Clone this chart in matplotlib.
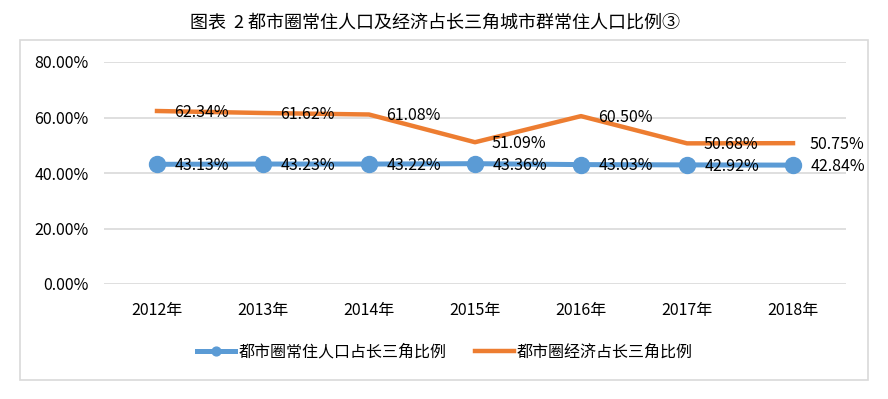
import numpy as np
import matplotlib
matplotlib.use("Agg")
import matplotlib.pyplot as plt
from matplotlib.patches import Rectangle
from matplotlib.ticker import FuncFormatter

plt.rcParams["font.family"] = ["Noto Sans CJK SC", "DejaVu Sans"]

years = ["2012年", "2013年", "2014年", "2015年", "2016年", "2017年", "2018年"]
pop_share = [43.13, 43.23, 43.22, 43.36, 43.03, 42.92, 42.84]
econ_share = [62.34, 61.62, 61.08, 51.09, 60.50, 50.68, 50.75]
pop_name = "都市圈常住人口占长三角比例"
econ_name = "都市圈经济占长三角比例"
title = "图表  2 都市圈常住人口及经济占长三角城市群常住人口比例③"

BLUE = "#5B9BD5"
ORANGE = "#ED7D31"
GRID = "#D9D9D9"

fig = plt.figure(figsize=(8.88, 3.99), dpi=100)
# 外框
fig.patches.append(Rectangle((20 / 888, 19 / 399), 848 / 888, 340 / 399,
                             transform=fig.transFigure, fill=False,
                             edgecolor=GRID, linewidth=1.2))
fig.text(435 / 888, 1 - 23 / 399, title, ha="center", va="center", fontsize=13)

ax = fig.add_axes([104 / 888, 115 / 399, 742 / 888, 222 / 399])
x = np.arange(len(years))
pop = np.array(pop_share) / 100
econ = np.array(econ_share) / 100

ax.plot(x, pop, color=BLUE, linewidth=3.6, marker="o", markersize=11.5,
        label=pop_name, zorder=3)
ax.plot(x, econ, color=ORANGE, linewidth=3.2, label=econ_name, zorder=3)

for xi, v in zip(x, pop_share):
    ax.annotate(f"{v:.2f}%", (xi, v / 100), xytext=(13, -1), textcoords="offset points",
                ha="left", va="center", fontsize=11.5, zorder=5)
for xi, v in zip(x, econ_share):
    ax.annotate(f"{v:.2f}%", (xi, v / 100), xytext=(12, -1), textcoords="offset points",
                ha="left", va="center", fontsize=11.5, zorder=5)

ax.set_xlim(-0.5, len(years) - 0.5)
ax.set_ylim(0, 0.8)
ax.set_yticks([0, 0.2, 0.4, 0.6, 0.8])
ax.yaxis.set_major_formatter(FuncFormatter(lambda v, p: f"{v * 100:.2f}%"))
ax.set_xticks(x)
ax.set_xticklabels(years)
ax.tick_params(axis="both", length=0, labelsize=11.5)
ax.tick_params(axis="y", pad=11)
ax.tick_params(axis="x", pad=13)
ax.grid(axis="y", color=GRID, linewidth=1.2)
ax.set_axisbelow(True)
for s in ax.spines.values():
    s.set_visible(False)

fig.legend(loc="center", bbox_to_anchor=(445 / 888, 1 - 352 / 399), ncol=2,
           frameon=False, fontsize=11.5, handlelength=2.4, columnspacing=1.8,
           handletextpad=0.2, markerscale=0.55)

fig.savefig("out.png", dpi=100)
